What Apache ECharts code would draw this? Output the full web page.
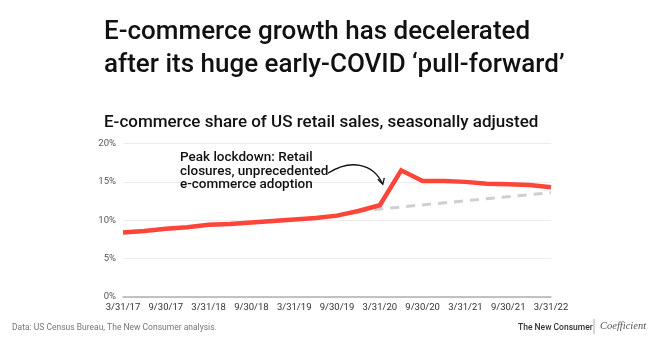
<!DOCTYPE html>
<html><head><meta charset="utf-8">
<script src="https://cdn.jsdelivr.net/npm/echarts@6/dist/echarts.min.js"></script>
<style>html,body{margin:0;padding:0;background:#fff}#c{width:650px;height:340px}</style>
</head><body><div id="c"></div>
<script>
const quarters = ["3/31/17","6/30/17","9/30/17","12/31/17","3/31/18","6/30/18","9/30/18","12/31/18","3/31/19","6/30/19","9/30/19","12/31/19","3/31/20","6/30/20","9/30/20","12/31/20","3/31/21","6/30/21","9/30/21","12/31/21","3/31/22"];
const ecomShare = [8.4,8.6,8.9,9.1,9.4,9.5,9.7,9.9,10.1,10.3,10.6,11.2,11.95,16.5,15.1,15.1,15.0,14.75,14.7,14.6,14.3];
const preCovidTrend = [null,null,null,null,null,null,null,null,null,null,null,11.2,null,null,null,null,null,null,null,null,13.6];
const yTicks = [0,5,10,15,20];

const chart = echarts.init(document.getElementById('c'));
const F = 'Roboto, "Noto Sans", sans-serif';
chart.setOption({
  animation:false,
  grid:{left:123,right:99,top:143.5,bottom:43,containLabel:false},
  xAxis:{type:'category',data:quarters,boundaryGap:false,
    axisLine:{lineStyle:{color:'#b0b0b0',width:1.5}},axisTick:{show:false},
    axisLabel:{interval:1,color:'#333',fontSize:9.5,fontFamily:F,margin:6}},
  yAxis:{type:'value',min:yTicks[0],max:yTicks[yTicks.length-1],interval:5,
    axisLine:{show:false},axisTick:{show:false},
    splitLine:{lineStyle:{color:'#ececec',width:1.2}},
    axisLabel:{formatter:'{value}%',color:'#555',fontSize:9.5,fontFamily:F,margin:7}},
  title:[
    {text:'E-commerce growth has decelerated\nafter its huge early-COVID ‘pull-forward’',left:99,top:11,
     textStyle:{fontFamily:F,fontSize:26,fontWeight:500,color:'#111',lineHeight:33}},
    {text:'E-commerce share of US retail sales, seasonally adjusted',left:99,top:109,
     textStyle:{fontFamily:F,fontSize:17,fontWeight:500,color:'#111'}}
  ],
  series:[
    {type:'line',data:preCovidTrend,connectNulls:true,showSymbol:false,z:2,
     lineStyle:{color:'#cfcfcf',width:3,type:[9,7]}},
    {type:'line',data:ecomShare,showSymbol:false,z:3,
     lineStyle:{color:'#ff4438',width:4.5,join:'miter'}}
  ]
});
const p0 = chart.convertToPixel({seriesIndex:1},[12,ecomShare[12]]);
const sx = p0[0]-52, sy = p0[1]-32;
const ex = p0[0]+3, ey = p0[1]-21;
chart.setOption({graphic:[
  {type:'text',left:180,top:151,style:{text:'Peak lockdown: Retail\nclosures, unprecedented\ne-commerce adoption',
    font:'500 13.5px '+F,fill:'#111',lineHeight:13.5}},
  {type:'bezierCurve',shape:{x1:sx,y1:sy,x2:ex,y2:ey,cpx1:sx+22,cpy1:sy-14,cpx2:ex-10,cpy2:ey-22},
    style:{stroke:'#111',lineWidth:1.3,fill:null}},
  {type:'polyline',shape:{points:[[ex-5,ey-5],[ex,ey],[ex+1.5,ey-6.5]]},style:{stroke:'#111',lineWidth:1.3,fill:null}},
  {type:'text',left:12,top:323,style:{text:'Data: US Census Bureau, The New Consumer analysis.',font:'8.5px '+F,fill:'#777'}},
  {type:'text',left:518,top:323,style:{text:'The New Consumer',font:'500 8.5px '+F,fill:'#333'}},
  {type:'line',shape:{x1:594,y1:319,x2:594,y2:334},style:{stroke:'#aaa',lineWidth:1}},
  {type:'text',left:600,top:321,style:{text:'Coefficient',font:'italic 10.5px "Liberation Serif", serif',fill:'#555'}}
]});
</script></body></html>
